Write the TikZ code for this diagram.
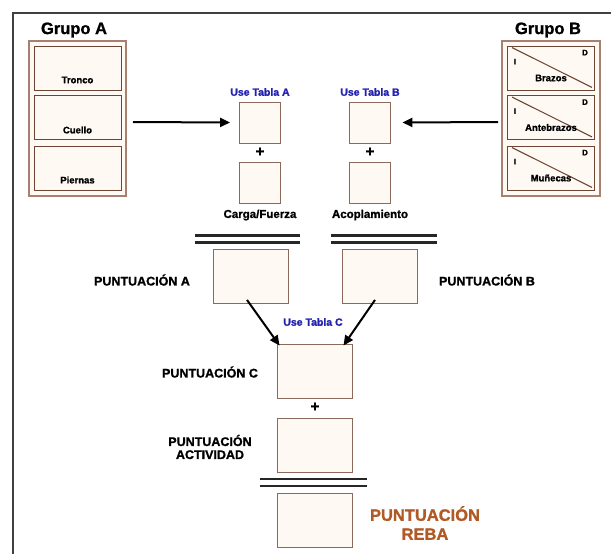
\documentclass[tikz,border=0pt]{standalone}
\usepackage{fontspec}
\setmainfont{Liberation Sans}
\newfontfamily\heavy{Liberation Sans Bold}[FakeBold=1.2]
\usetikzlibrary{arrows.meta}
\definecolor{brL}{HTML}{A88070}
\definecolor{brD}{HTML}{6E4434}
\definecolor{boxC}{HTML}{FFF9F4}
\definecolor{bluT}{HTML}{2222B0}
\definecolor{reba}{HTML}{B05A25}
\tikzset{
  grpouter/.style={draw=brL,line width=1.8pt,fill=boxC},
  grpinner/.style={draw=brD,line width=0.9pt,fill=boxC,minimum width=87pt,minimum height=44pt,inner sep=0pt},
  sqbox/.style={draw=brD!80,line width=0.9pt,fill=boxC,minimum width=41pt,minimum height=41pt,inner sep=0pt},
  bigbox/.style={draw=brD!80,line width=0.9pt,fill=boxC,minimum width=75pt,minimum height=54pt,inner sep=0pt},
  small/.style={font=\heavy\fontsize{9.5}{10}\selectfont,inner sep=0pt},
  tiny/.style={font=\heavy\fontsize{8}{9}\selectfont,inner sep=0pt},
  grp/.style={font=\heavy\fontsize{16.5}{17}\selectfont,inner sep=0pt},
  tabla/.style={font=\heavy\fontsize{10.5}{11}\selectfont,text=bluT,inner sep=0pt},
  mid/.style={font=\heavy\fontsize{11.5}{12}\selectfont,inner sep=0pt},
  punt/.style={font=\heavy\fontsize{12.5}{13}\selectfont,inner sep=0pt,align=center},
  plus/.style={font=\heavy\fontsize{15}{15}\selectfont,inner sep=0pt},
  arr/.style={-{Triangle[length=10pt,width=9pt]},line width=2pt},
  dbl/.style={line width=2.3pt,black!85}
}
\begin{document}
\begin{tikzpicture}[x=1pt,y=-1pt]
\useasboundingbox (0,0) rectangle (611,554);
\fill[white] (0,0) rectangle (611,554);
% frame
\draw[line width=1.4pt,black!75] (13,554) -- (13,13) -- (611,13);

% Group A
\node[grp] (gAl) at (74,30) {Grupo A};
\draw[grpouter] (29,41) rectangle (126,196);
\node[grpinner] (a1) at (77.5,68) {};
\node[grpinner] (a2) at (77.5,117.5) {};
\node[grpinner] (a3) at (77.5,168) {};
\node[small] (ta1) at (77.5,80) {Tronco};
\node[small] (ta2) at (77.5,130) {Cuello};
\node[small] (ta3) at (77.5,180) {Piernas};
\coordinate (gAe) at (133,122);

% Group B
\node[grp] (gBl) at (548,30) {Grupo B};
\draw[grpouter] (502,41) rectangle (600,196);
\foreach \n/\y/\t in {1/68/Brazos,2/117.5/Antebrazos,3/168/Muñecas}{
  \node[grpinner] (b\n) at (551,\y) {};
  \draw[line width=1.1pt,brD] ([shift={(5,2)}]b\n.north west) -- ([shift={(-3,-3)}]b\n.south east);
  \node[tiny] (bi\n) at ([shift={(8,16)}]b\n.north west) {I};
  \node[tiny] (bd\n) at ([shift={(-10,7)}]b\n.north east) {D};
  \node[small] (bt\n) at (551,\y+10) {\t};
}
\coordinate (gBw) at (498,122);

% Tables A and B
\node[tabla] (utA) at (260,92) {Use Tabla A};
\node[sqbox] (A1) at (260,122.5) {};
\node[plus] (pA) at (260,152) {+};
\node[sqbox] (A2) at (260,183) {};
\node[mid] (cf) at (260,215) {Carga/Fuerza};

\node[tabla] (utB) at (370,92) {Use Tabla B};
\node[sqbox] (B1) at (369.5,122.5) {};
\node[plus] (pB) at (370,152) {+};
\node[sqbox] (B2) at (369.5,183) {};
\node[mid] (ac) at (370,215) {Acoplamiento};

\draw[arr] (gAe) -- ([xshift=-9pt]A1.west);
\draw[arr] (gBw) -- ([xshift=12pt]B1.east);

% double lines
\draw[dbl] (195,235.5) -- (300,235.5);
\draw[dbl] (195,242.5) -- (300,242.5);
\draw[dbl] (331,235.5) -- (437,235.5);
\draw[dbl] (331,242.5) -- (437,242.5);

% Puntuacion A / B
\node[bigbox] (PA) at (250.5,276.5) {};
\node[bigbox] (PB) at (379.5,276.5) {};
\node[punt] (lPA) at (142,280) {PUNTUACIÓN A};
\node[punt] (lPB) at (487,280) {PUNTUACIÓN B};
\node[tabla] (utC) at (313,322) {Use Tabla C};

% Puntuacion C
\node[bigbox] (PC) at (314.5,371) {};
\node[punt] (lPC) at (210,372) {PUNTUACIÓN C};
\draw[arr] ([xshift=-3.5pt,yshift=4pt]PA.south) -- ([xshift=3pt,yshift=-2pt]PC.north west);
\draw[arr] ([xshift=-4.5pt,yshift=4pt]PB.south) -- ([xshift=-9pt,yshift=-2pt]PC.north east);

\node[plus] (pC) at (315,407) {+};
\node[bigbox] (PAct) at (314.5,445.5) {};
\node[punt] (lPAct) at (210,447) {PUNTUACIÓN\\ACTIVIDAD};

\draw[dbl] (260,479) -- (367,479);
\draw[dbl] (260,486) -- (367,486);

\node[bigbox] (PR) at (314.5,520) {};
\node[punt,font=\heavy\fontsize{16.5}{19}\selectfont,text=reba] (lPR) at (425,523) {PUNTUACIÓN\\REBA};
\end{tikzpicture}
\end{document}
